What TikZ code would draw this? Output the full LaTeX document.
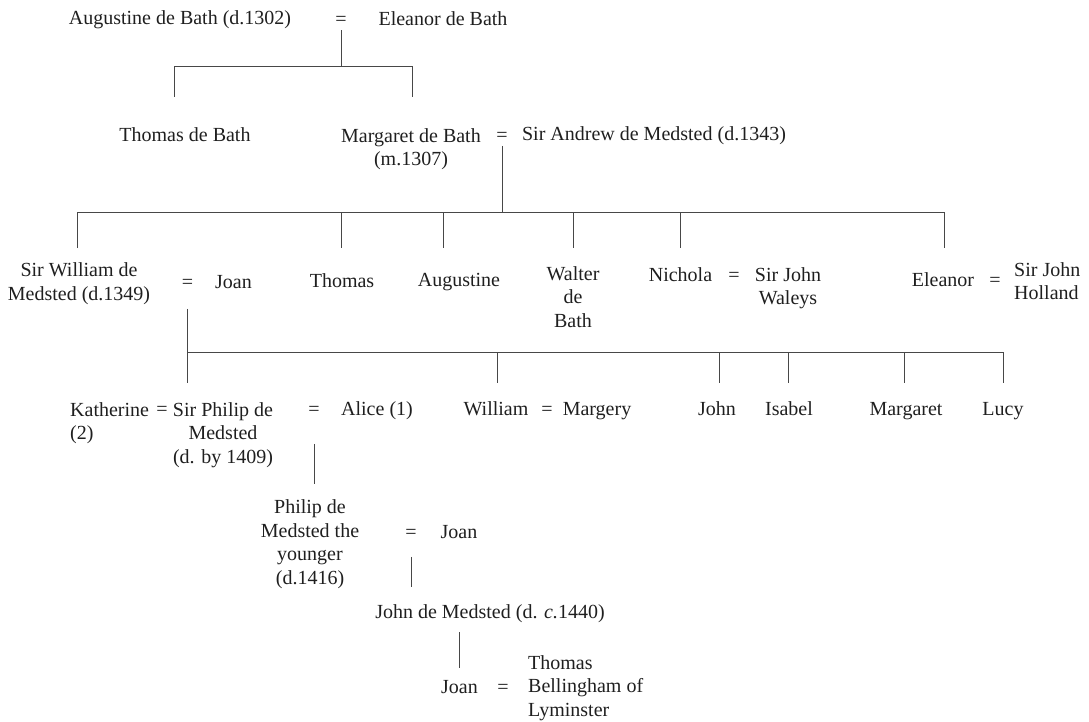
\documentclass[tikz,border=0pt]{standalone}
\usepackage{fontspec}
\setmainfont{Liberation Serif}
\usepackage{tikz}

\begin{document}
\begin{tikzpicture}[x=1pt, y=-1pt,
  every node/.style={font=\fontsize{20}{23.5}\selectfont, text=black!88, inner sep=0pt, align=center},
  kin/.style={draw=black!72, line width=1pt}]
\useasboundingbox (0,0) rectangle (1089,722);

% Augustine = Eleanor
\node (augB) at (180,20) {Augustine de Bath (d.1302)};
\node (eqAug) at (341,20.5) {=};
\node (eleB) at (443,18.5) {Eleanor de Bath};

\node (thoB) at (185,135) {Thomas de Bath};
\node (margB) at (411,149) {Margaret de Bath\\(m.1307)};
\node (eqMarg) at (502,137) {=};
\node (andrew) at (654,136) {Sir Andrew de Medsted (d.1343)};

% children of Margaret and Andrew
\node (wilM) at (79,283.5) {Sir William de\\Medsted (d.1349)};
\node (eqWil) at (187.5,284) {=};
\node (joanW) at (233.5,282) {Joan};
\node (thoM) at (342,281) {Thomas};
\node (augM) at (459,282) {Augustine};
\node (walM) at (573,297) {Walter\\de\\Bath};
\node (nich) at (680.5,275) {Nichola};
\node (eqNich) at (734,277) {=};
\node (waleys) at (788,288) {Sir John\\Waleys};
\node (eleM) at (943,280) {Eleanor};
\node (eqEle) at (995,282) {=};
\node[anchor=west, align=left] (holland) at (1014,281) {Sir John\\Holland};

% children of William and Joan
\node[anchor=west, align=left] (kath) at (70,423) {Katherine\\(2)};
\node (eqKath) at (162,411) {=};
\node (philip) at (223,435) {Sir Philip de\\Medsted\\(d. by 1409)};
\node (eqPhil) at (314,411) {=};
\node (alice) at (377,411) {Alice (1)};
\node (willM) at (496,409) {William};
\node (eqWill) at (547,411) {=};
\node (margery) at (597,411) {Margery};
\node (johnM) at (717,409) {John};
\node (isabel) at (789,409) {Isabel};
\node (margM) at (906,411) {Margaret};
\node (lucy) at (1003,411) {Lucy};

\node (philY) at (310,544) {Philip de\\Medsted the\\younger\\(d.1416)};
\node (eqPhilY) at (411,534) {=};
\node (joanP) at (459,532) {Joan};

\node (johnD) at (490,614) {John de Medsted (d. \textit{c.}1440)};

\node (joanD) at (459.5,687) {Joan};
\node (eqJoan) at (503,689) {=};
\node[anchor=west, align=left] (belling) at (528,688) {Thomas\\Bellingham of\\Lyminster};

% descent lines
\coordinate (bar0) at (0,67);
\coordinate (ft-thoB) at (174.5,97);
\coordinate (ft-margB) at (412,97);
\draw[kin, shorten <=5pt] (eqAug.south) -- (eqAug |- bar0);
\draw[kin] (ft-thoB) |- (bar0 -| ft-margB) -- (ft-margB);

\coordinate (bar1) at (0,212);
\coordinate (ft-wilM) at (77,248);
\coordinate (ft-thoM) at (341,248);
\coordinate (ft-augM) at (443,248);
\coordinate (ft-walM) at (573,248);
\coordinate (ft-nich) at (680,248);
\coordinate (ft-eleM) at (944,248);
\draw[kin, shorten <=4pt] (eqMarg.south) -- (eqMarg |- bar1);
\draw[kin] (ft-wilM) |- (bar1 -| ft-eleM) -- (ft-eleM);
\draw[kin] (ft-thoM |- bar1) -- (ft-thoM);
\draw[kin] (ft-augM |- bar1) -- (ft-augM);
\draw[kin] (ft-walM |- bar1) -- (ft-walM);
\draw[kin] (ft-nich |- bar1) -- (ft-nich);

\coordinate (bar2) at (0,352);
\coordinate (ft-philip) at (187.5,383);
\coordinate (ft-willM) at (497,383);
\coordinate (ft-johnM) at (719,383);
\coordinate (ft-isabel) at (788.5,383);
\coordinate (ft-margM) at (904,383);
\coordinate (ft-lucy) at (1003,383);
\draw[kin, shorten <=20pt] (eqWil.south) -- (ft-philip);
\draw[kin] (eqWil |- bar2) -| (ft-lucy);
\draw[kin] (ft-willM |- bar2) -- (ft-willM);
\draw[kin] (ft-johnM |- bar2) -- (ft-johnM);
\draw[kin] (ft-isabel |- bar2) -- (ft-isabel);
\draw[kin] (ft-margM |- bar2) -- (ft-margM);

\coordinate (ft-philY) at (314,484);
\draw[kin, shorten <=28pt] (eqPhil.south) -- (ft-philY);
\coordinate (ft-johnD) at (411,587);
\draw[kin, shorten <=18pt] (eqPhilY.south) -- (ft-johnD);
\draw[kin, shorten <=9pt, shorten >=12pt] (johnD.south -| joanD.north) -- (joanD.north);
\end{tikzpicture}
\end{document}
